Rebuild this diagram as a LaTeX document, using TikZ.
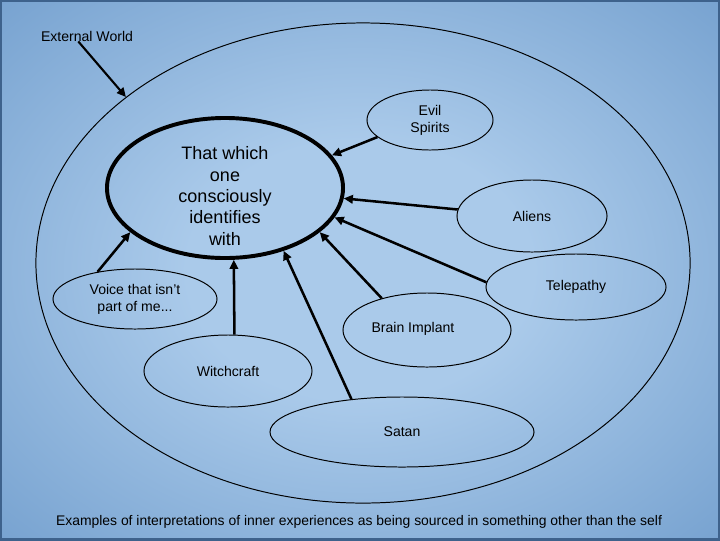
\documentclass[tikz,border=0pt]{standalone}
\usepackage{fontspec}
\setmainfont{Liberation Sans}
\usetikzlibrary{shapes.geometric,arrows.meta}
\definecolor{bgin}{RGB}{170,202,234}
\definecolor{bgout}{RGB}{88,138,192}
\definecolor{bgedge}{RGB}{62,98,140}
\pgfdeclareradialshading{bgglow}{\pgfpoint{0bp}{0bp}}{color(0bp)=(bgin); color(12bp)=(bgin); color(50bp)=(bgout); color(72bp)=(bgout)}

\begin{document}
\begin{tikzpicture}[x=0.025cm, y=-0.025cm,
    bubble/.style={draw, line width=0.7pt, ellipse, inner sep=0pt, align=center, font=\fontsize{10}{12}\selectfont},
    conn/.style={-{Triangle[length=6.5pt,width=6pt]}, line width=1.8pt}]
    \useasboundingbox (0,0) rectangle (720,540);
    \shade[shading=bgglow] (0,0) rectangle (720,540);
    \draw[bgedge, line width=1.5pt] (0.5,0.5) rectangle (719.5,539.5);

    % outer world
    \node[bubble, minimum width=16.35cm, minimum height=12cm] (extworld) at (363,263) {};
    \node[inner sep=0pt, font=\fontsize{10}{12}\selectfont] (extlabel) at (87,36) {External World};
    \draw[conn, line width=1.5pt] (extlabel.212) -- (extworld.145);

    % the self
    \node[bubble, line width=2.8pt, minimum width=5.9cm, minimum height=3.5cm] (self) at (225,188) {};
    \node[align=center, inner sep=0pt, font=\fontsize{12.8}{15.2}\selectfont] (selftext) at (225,196) {That which\\one\\consciously\\identifies\\with};

    % sources
    \node[bubble, minimum width=3.15cm, minimum height=1.5cm] (evil) at (430,120) {Evil\\Spirits};
    \node[bubble, minimum width=3.75cm, minimum height=1.8cm] (aliens) at (532,216) {Aliens};
    \node[bubble, minimum width=4.5cm, minimum height=1.65cm] (telepathy) at (576,287) {Telepathy};
    \node[bubble, minimum width=4.2cm, minimum height=1.85cm] (brain) at (427,330) {\raisebox{3pt}{Brain Implant}\hspace{20pt}};
    \node[bubble, minimum width=4.1cm, minimum height=1.5cm] (voice) at (135,299) {Voice that isn't\\part of me...};
    \node[bubble, minimum width=4.2cm, minimum height=1.8cm] (witch) at (228,371) {Witchcraft};
    \node[bubble, minimum width=6.6cm, minimum height=1.75cm] (satan) at (402,432) {Satan};

    % arrows into the self
    \draw[conn] (evil.198) -- (self.17);
    \draw[conn] (aliens.175) -- (self.355);
    \draw[conn] (telepathy.177) -- (self.345);
    \draw[conn] (brain.145) -- (self.335);
    \draw[conn] (satan.147) -- (self.313);
    \draw[conn] (witch.80) -- (self.277);
    \draw[conn] (voice.144) -- (self.205);

    \node[font=\fontsize{9.9}{11}\selectfont] (caption) at (359,522) {Examples of interpretations of inner experiences as being sourced in something other than the self};
\end{tikzpicture}
\end{document}
